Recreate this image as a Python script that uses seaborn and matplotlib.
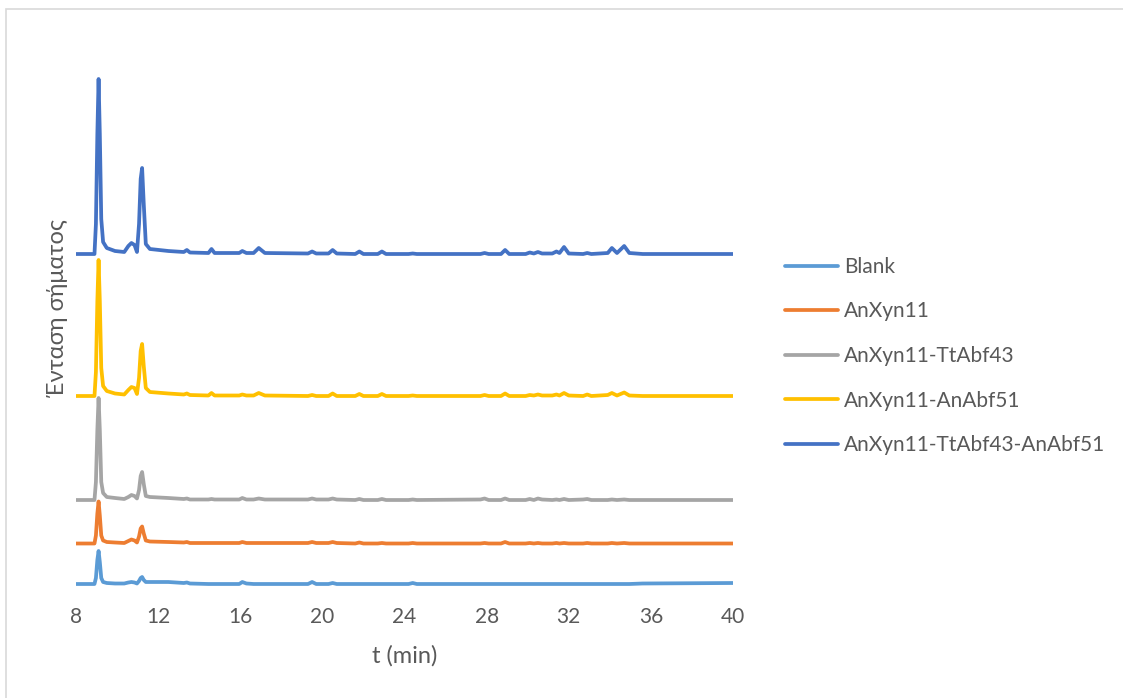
import numpy as np
import pandas as pd
import matplotlib
matplotlib.use("Agg")
import matplotlib.pyplot as plt
import seaborn as sns
from matplotlib.patches import Rectangle

# retention time grid (min)
t_min = [8.0, 8.9, 8.97, 9.04, 9.1, 9.16, 9.23, 9.32, 9.5, 9.9,
         10.35, 10.55, 10.7, 10.85, 10.97, 11.07, 11.15, 11.22, 11.3, 11.4,
         11.6, 12.5, 13.25, 13.4, 13.55, 14.45, 14.6, 14.75, 15.95, 16.1,
         16.3, 16.65, 16.9, 17.2, 19.3, 19.5, 19.7, 20.3, 20.5, 20.7,
         21.6, 21.8, 22.0, 22.7, 22.9, 23.1, 24.2, 24.4, 24.6, 27.7,
         27.9, 28.1, 28.7, 28.9, 29.1, 29.9, 30.1, 30.3, 30.5, 30.7,
         31.2, 31.4, 31.55, 31.77, 32.0, 32.7, 32.9, 33.1, 33.9, 34.1,
         34.35, 34.7, 34.95, 35.6, 40.0]

names = ["Blank", "AnXyn11", "AnXyn11-TtAbf43", "AnXyn11-AnAbf51",
         "AnXyn11-TtAbf43-AnAbf51"]
colors = ["#5B9BD5", "#ED7D31", "#A5A5A5", "#FFC000", "#4472C4"]

# vertical offset of each trace
offsets = [16, 56.5, 100, 204, 346]

blank = [0, 0, 6, 24, 33, 22, 6, 2, 1, 0.5,
         0.5, 1.5, 2, 1.5, 0.5, 3, 6, 7, 4, 2,
         2, 2, 1, 1.5, 0.5, 0, 0, 0, 0, 2,
         0.5, 0, 0, 0, 0, 2, 0, 0, 1, 0,
         0, 0, 0, 0, 0, 0, 0, 1, 0, 0,
         0, 0, 0, 0, 0, 0, 0, 0, 0, 0,
         0, 0, 0, 0, 0, 0, 0, 0, 0, 0,
         0, 0, 0, 0.5, 1]

anxyn11 = [0, 0, 8, 30, 42, 28, 8, 3, 1.5, 1,
           0.5, 2.5, 4, 3, 1, 7, 15, 17, 10, 3,
           2, 1.5, 1, 1.5, 0.5, 0.5, 0.5, 0.5, 0.5, 1.5,
           0.5, 0.5, 0.5, 0.5, 0.5, 1.5, 0.5, 0.5, 1.5, 0.5,
           0, 1, 0, 0, 0.5, 0, 0, 0.5, 0, 0,
           0.5, 0, 0, 1.5, 0, 0, 0.5, 0, 0.5, 0,
           0, 0.5, 0, 0.5, 0, 0, 0.5, 0, 0, 0.5,
           0, 0.5, 0, 0, 0]

anxyn11_tt = [0, 0, 18, 70, 102, 70, 18, 7, 3, 2,
              1, 3, 5, 4, 1.5, 10, 24, 28, 16, 4,
              3, 2, 1, 1.5, 0.5, 0.5, 1, 0.5, 0.5, 2,
              0.5, 0.5, 1.5, 0.5, 0.5, 1.5, 0.5, 0.5, 1.5, 0.5,
              0, 1, 0, 0, 1, 0, 0, 0.5, 0, 0.5,
              1.5, 0, 0, 1.5, 0, 0, 1, 0, 1.5, 0.5,
              0, 0.5, 0, 1, 0, 0.5, 1, 0, 0, 0.5,
              0, 0.5, 0, 0, 0]

anxyn11_an = [0, 0, 24, 95, 136, 95, 28, 10, 5, 2.5,
              1.5, 6, 9, 8, 2, 18, 45, 52, 30, 8,
              4, 2.5, 1.5, 2.5, 1, 0.5, 3, 0.5, 0.5, 1.5,
              0.5, 0.5, 3, 0.5, 0, 1, 0, 0, 2.5, 0,
              0, 2, 0, 0, 2, 0, 0, 0.5, 0, 0,
              1, 0, 0, 2.5, 0, 0, 1, 0.5, 1.5, 0.5,
              0.5, 1.5, 0.5, 3, 0.5, 0, 1.5, 0, 1, 3,
              0.5, 3.5, 0.5, 0, 0]

anxyn11_tt_an = [0, 0, 30, 120, 175, 120, 35, 12, 6, 3,
                 2, 8, 11, 9, 2, 30, 75, 86, 50, 10,
                 5, 3, 2, 4, 1.5, 1, 5, 1, 1, 3,
                 1, 1, 6, 1, 0.5, 2.5, 0.5, 0.5, 4, 0.5,
                 0, 2.5, 0, 0, 2.5, 0, 0, 0.5, 0, 0,
                 1, 0, 0, 4, 0, 0, 1.5, 0.5, 2, 0.5,
                 0.5, 2.5, 1, 7, 0.5, 0, 1, 0, 1, 6,
                 1, 8, 1, 0, 0]

signals = [blank, anxyn11, anxyn11_tt, anxyn11_an, anxyn11_tt_an]

frames = []
for name, off, sig in zip(names, offsets, signals):
    frames.append(pd.DataFrame({"t": t_min,
                                "signal": np.array(sig) + off,
                                "sample": name}))
df = pd.concat(frames, ignore_index=True)

sns.set_style("white")
plt.rcParams['font.family'] = ['Lato', 'DejaVu Sans']
text_color = "#595959"

fig = plt.figure(figsize=(11.23, 6.98), dpi=100)
ax = fig.add_axes([76 / 1123, 98 / 698, 657 / 1123, 540 / 698])

sns.lineplot(data=df, x="t", y="signal", hue="sample", hue_order=names,
             palette=colors, estimator=None, sort=False, linewidth=2.7, ax=ax)

ax.set_xlim(8, 40)
ax.set_ylim(0, 540)
ax.set_xticks(range(8, 41, 4))
ax.set_yticks([])
for s in ax.spines.values():
    s.set_visible(False)
ax.tick_params(axis="x", length=0, pad=5, labelsize=15, labelcolor=text_color)
ax.set_xlabel("t (min)", fontsize=17, color=text_color, labelpad=13)
ax.set_ylabel("Ένταση σήματος", fontsize=17, color=text_color)
ax.yaxis.set_label_coords(-0.012, 0.54)

sns.move_legend(ax, loc="center left", bbox_to_anchor=(785 / 1123, 1 - 356 / 698),
                bbox_transform=fig.transFigure, frameon=False, title=None,
                fontsize=15, labelspacing=1.18, handlelength=2.55,
                handletextpad=0.3, borderpad=0, borderaxespad=0)
for txt in ax.get_legend().get_texts():
    txt.set_color(text_color)
for ln in ax.get_legend().get_lines():
    ln.set_linewidth(2.7)

# chart area border
fig.patches.append(Rectangle((6 / 1123, -0.1), 1.2, 1.1 - 9 / 698,
                             transform=fig.transFigure, fill=False,
                             edgecolor="#D9D9D9", linewidth=1.2))

plt.savefig("out.png", dpi=100)
